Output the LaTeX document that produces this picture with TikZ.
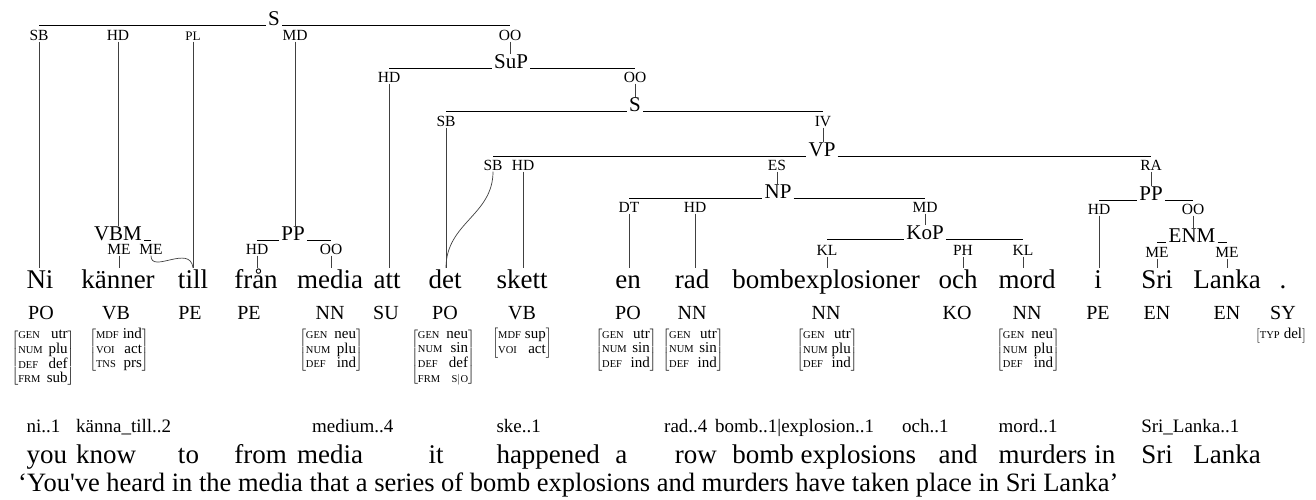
\documentclass[tikz,border=0pt]{standalone}
\usepackage{fontspec}
\setmainfont{Liberation Serif}
\newcommand{\fsz}[1]{\fontsize{#1}{#1}\selectfont}
\newcommand{\att}[1]{{\fontsize{10.5}{10.5}\selectfont #1}}
\newcommand{\avm}[1]{$\left[\begin{tabular}{@{}l@{\hspace{4pt}}r@{}}#1\end{tabular}\right]$}
\tikzset{
  word/.style={font=\fsz{27}, inner sep=0pt, anchor=base, text height=20pt, text depth=0pt},
  postag/.style={font=\fsz{20}, inner sep=0pt, anchor=base},
  cat/.style={font=\fsz{21}, inner xsep=2pt, inner ysep=0pt, anchor=base},
  elab/.style={font=\fsz{15.5}, inner sep=0pt, anchor=base, text height=11pt, text depth=0pt},
  bar/.style={line width=0.9pt},
  vline/.style={line width=0.7pt, black!75, shorten <=1.5pt},
  feat/.style={inner sep=0pt, anchor=north, font=\fontsize{15}{14.5}\selectfont},
  lemma/.style={font=\fsz{19}, inner sep=0pt, anchor=base west},
  gloss/.style={font=\fsz{27}, inner sep=0pt, anchor=base west},
}
\begin{document}
\begin{tikzpicture}[x=1pt,y=-1pt]
\useasboundingbox (0,0) rectangle (1316,499);
% ---------- words ----------
\node[word] (w1) at (40,288) {Ni};
\node[word] (w2) at (118,288) {känner};
\node[word] (w3) at (193,288) {till};
\node[word] (w4) at (256,288) {från};
\node[word] (w5) at (330,288) {media};
\node[word] (w6) at (387,288) {att};
\node[word] (w7) at (445,288) {det};
\node[word] (w8) at (522,288) {skett};
\node[word] (w9) at (628,288) {en};
\node[word] (w10) at (692,288) {rad};
\node[word] (w11) at (826,288) {bombexplosioner};
\node[word] (w12) at (958,288) {och};
\node[word] (w13) at (1027,288) {mord};
\node[word] (w14) at (1098,288) {i};
\node[word] (w15) at (1157,288) {Sri};
\node[word] (w16) at (1227,288) {Lanka};
\node[word] (w17) at (1283,288) {.};
% ---------- POS ----------
\node[postag] (p1) at (41,319) {PO};
\node[postag] (p2) at (116,319) {VB};
\node[postag] (p3) at (190,319) {PE};
\node[postag] (p4) at (249,319) {PE};
\node[postag] (p5) at (330,319) {NN};
\node[postag] (p6) at (386,319) {SU};
\node[postag] (p7) at (445,319) {PO};
\node[postag] (p8) at (522,319) {VB};
\node[postag] (p9) at (628,319) {PO};
\node[postag] (p10) at (692,319) {NN};
\node[postag] (p11) at (826,319) {NN};
\node[postag] (p12) at (957,319) {KO};
\node[postag] (p13) at (1027,319) {NN};
\node[postag] (p14) at (1098,319) {PE};
\node[postag] (p15) at (1157,319) {EN};
\node[postag] (p16) at (1227,319) {EN};
\node[postag] (p17) at (1283,319) {SY};
% ---------- features ----------
\node[feat] (f1) at (43,328) {\avm{\att{GEN}&utr\\\att{NUM}&plu\\\att{DEF}&def\\\att{FRM}&sub}};
\node[feat] (f2) at (119,328) {\avm{\att{MDF}&ind\\\att{VOI}&act\\\att{TNS}&prs}};
\node[feat] (f5) at (331,328) {\avm{\att{GEN}&neu\\\att{NUM}&plu\\\att{DEF}&ind}};
\node[feat] (f7) at (443,328) {\avm{\att{GEN}&neu\\\att{NUM}&sin\\\att{DEF}&def\\\att{FRM}&\att{S$|$O}}};
\node[feat] (f8) at (522,328) {\avm{\att{MDF}&sup\\\att{VOI}&act}};
\node[feat] (f9) at (626,328) {\avm{\att{GEN}&utr\\\att{NUM}&sin\\\att{DEF}&ind}};
\node[feat] (f10) at (693,328) {\avm{\att{GEN}&utr\\\att{NUM}&sin\\\att{DEF}&ind}};
\node[feat] (f11) at (827,328) {\avm{\att{GEN}&utr\\\att{NUM}&plu\\\att{DEF}&ind}};
\node[feat] (f13) at (1028,328) {\avm{\att{GEN}&neu\\\att{NUM}&plu\\\att{DEF}&ind}};
\node[feat] (f17) at (1281,328) {\avm{\att{TYP}\hspace{14pt}&del}};
% ---------- root S ----------
\node[cat] (S0) at (274,25) {S};
\node[elab] (a1) at (39,40) {SB};
\node[elab] (a2) at (118,40) {HD};
\node[elab, font=\fsz{13}] (a3) at (193,40) {PL};
\node[elab] (a4) at (295,40) {MD};
\node[elab] (a5) at (510,40) {OO};
\draw[bar] (a1.north |- S0.base) -- (S0.base west);
\draw[bar] (S0.base east) -- (a5.north |- S0.base);
% VBM
\node[cat] (vbm) at (118,240) {VBM};
\node[elab] (b1) at (119,254) {ME};
\node[elab] (b2) at (151,254) {ME};
\draw[bar] (vbm.base east) -- (b2.north |- vbm.base);
% PP (från media)
\node[cat] (pp1) at (293,240) {PP};
\node[elab] (c1) at (257,254) {HD};
\node[elab] (c2) at (331,254) {OO};
\draw[bar] (c1.north |- pp1.base) -- (pp1.base west);
\draw[bar] (pp1.base east) -- (c2.north |- pp1.base);
% SuP
\node[cat] (sup) at (511,68) {SuP};
\node[elab] (d1) at (389,82) {HD};
\node[elab] (d2) at (635,82) {OO};
\draw[bar] (d1.north |- sup.base) -- (sup.base west);
\draw[bar] (sup.base east) -- (d2.north |- sup.base);
% S (inner)
\node[cat] (S1) at (635,111) {S};
\node[elab] (e1) at (446,126) {SB};
\node[elab] (e2) at (823,126) {IV};
\draw[bar] (e1.north |- S1.base) -- (S1.base west);
\draw[bar] (S1.base east) -- (e2.north |- S1.base);
% VP
\node[cat] (vp) at (822,156) {VP};
\node[elab] (g1) at (493,170) {SB};
\node[elab] (g2) at (523,170) {HD};
\node[elab] (g3) at (777,170) {ES};
\node[elab] (g4) at (1151,170) {RA};
\draw[bar] (g1.north |- vp.base) -- (vp.base west);
\draw[bar] (vp.base east) -- (g4.north |- vp.base);
% NP
\node[cat] (np) at (778,198) {NP};
\node[elab] (h1) at (629,212) {DT};
\node[elab] (h2) at (695,212) {HD};
\node[elab] (h3) at (925,212) {MD};
\draw[bar] (h1.north |- np.base) -- (np.base west);
\draw[bar] (np.base east) -- (h3.north |- np.base);
% KoP
\node[cat] (kop) at (925,239) {KoP};
\node[elab] (k1) at (827,255) {KL};
\node[elab] (k2) at (963,255) {PH};
\node[elab] (k3) at (1023,255) {KL};
\draw[bar] (k1.north |- kop.base) -- (kop.base west);
\draw[bar] (kop.base east) -- (k3.north |- kop.base);
% PP (i Sri Lanka)
\node[cat] (pp2) at (1151,200) {PP};
\node[elab] (m1) at (1099,214) {HD};
\node[elab] (m2) at (1193,214) {OO};
\draw[bar] (m1.north |- pp2.base) -- (pp2.base west);
\draw[bar] (pp2.base east) -- (m2.north |- pp2.base);
% ENM
\node[cat] (enm) at (1192,242) {ENM};
\node[elab] (n1) at (1157,257) {ME};
\node[elab] (n2) at (1227,257) {ME};
\draw[bar] (n1.north |- enm.base) -- (enm.base west);
\draw[bar] (enm.base east) -- (n2.north |- enm.base);
% ---------- vertical connectors ----------
\draw[vline] (a1.south) -- (a1.south |- w1.north);
\draw[vline] (a2.south) -- (a2.south |- vbm.north);
\draw[vline] (a3.south) -- (a3.south |- w3.north);
\draw[vline] (a4.south) -- (a4.south |- pp1.north);
\draw[vline] (a5.south) -- (a5.south |- sup.north);
\draw[vline] (b1.south) -- (b1.south |- w2.north);
\draw[vline] (b2.south) .. controls +(0,20) and +(-3,-24) .. (w3.north);
\draw[vline] (c1.south) -- (c1.south |- w4.north);
\draw[vline] (c2.south) -- (c2.south |- w5.north);
\draw[vline] (d1.south) -- (d1.south |- w6.north);
\draw[vline] (d2.south) -- (d2.south |- S1.north);
\draw[vline] (e1.south) -- (e1.south |- w7.north);
\draw[vline] (e2.south) -- (e2.south |- vp.north);
\draw[vline] (g1.south) .. controls +(0,45) and +(0,-45) .. (e1.south |- w7.north);
\draw[vline] (g2.south) -- (g2.south |- w8.north);
\draw[vline] (g3.south) -- (g3.south |- np.north);
\draw[vline] (g4.south) -- (g4.south |- pp2.north);
\draw[vline] (h1.south) -- (h1.south |- w9.north);
\draw[vline] (h2.south) -- (h2.south |- w10.north);
\draw[vline] (h3.south) -- (h3.south |- kop.north);
\draw[vline] (k1.south) -- (k1.south |- w11.north);
\draw[vline] (k2.south) -- (k2.south |- w12.north);
\draw[vline] (k3.south) -- (k3.south |- w13.north);
\draw[vline] (m1.south) -- (m1.south |- w14.north);
\draw[vline] (m2.south) -- (m2.south |- enm.north);
\draw[vline] (n1.south) -- (n1.south |- w15.north);
\draw[vline] (n2.south) -- (n2.south |- w16.north);
% ---------- lemmas ----------
\node[lemma] (l1) at (w1.west |- 0,432) {ni..1};
\node[lemma] (l2) at (76,432) {känna\_till..2};
\node[lemma] (l5) at (312,432) {medium..4};
\node[lemma] (l8) at (w8.west |- 0,432) {ske..1};
\node[lemma] (l10) at (664,432) {rad..4};
\node[lemma] (l11) at (715,432) {bomb..1|explosion..1};
\node[lemma] (l12) at (902,432) {och..1};
\node[lemma] (l13) at (w13.west |- 0,432) {mord..1};
\node[lemma] (l15) at (w15.west |- 0,432) {Sri\_Lanka..1};
% ---------- glosses ----------
\node[gloss] (t1) at (w1.west |- 0,463) {you};
\node[gloss] (t2) at (76,463) {know};
\node[gloss] (t3) at (w3.west |- 0,463) {to};
\node[gloss] (t4) at (w4.west |- 0,463) {from};
\node[gloss] (t5) at (w5.west |- 0,463) {media};
\node[gloss] (t7) at (w7.west |- 0,463) {it};
\node[gloss] (t8) at (w8.west |- 0,463) {happened};
\node[gloss] (t9) at (w9.west |- 0,463) {a};
\node[gloss] (t10) at (w10.west |- 0,463) {row};
\node[gloss] (t11) at (w11.west |- 0,463) {bomb explosions};
\node[gloss] (t12) at (w12.west |- 0,463) {and};
\node[gloss] (t13) at (w13.west |- 0,463) {murders};
\node[gloss] (t14) at (w14.west |- 0,463) {in};
\node[gloss] (t15) at (w15.west |- 0,463) {Sri};
\node[gloss] (t16) at (w16.west |- 0,463) {Lanka};
% ---------- translation ----------
\node[gloss, font=\fsz{26.5}] (tr) at (18,491) {‘You\textquotesingle ve heard in the media that a series of bomb explosions and murders have taken place in Sri Lanka’};
\end{tikzpicture}
\end{document}
